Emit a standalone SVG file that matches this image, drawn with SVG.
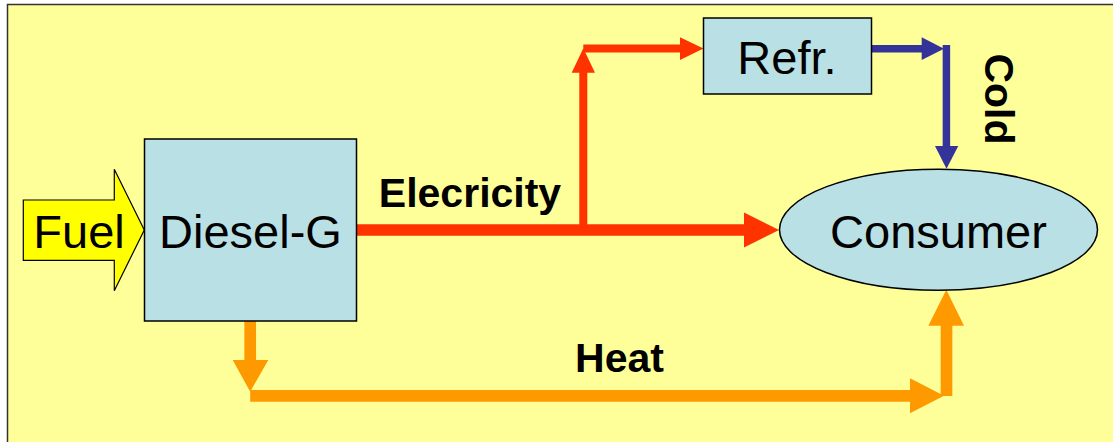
<svg xmlns="http://www.w3.org/2000/svg" width="1113" height="442" viewBox="0 0 1113 442">
<style>
.node{fill:#B9E0E4;stroke:#000;stroke-width:1.5}
.lbl{font-family:"Liberation Sans",Arial,sans-serif;font-size:47px;fill:#000;text-anchor:middle}
.blbl{font-family:"Liberation Sans",Arial,sans-serif;font-size:41px;font-weight:bold;fill:#000;text-anchor:middle}
.red{stroke:#FF3300;fill:none}
.redf{fill:#FF3300}
.blue{stroke:#333399;fill:none}
.bluef{fill:#333399}
.org{stroke:#FF9900;fill:none}
.orgf{fill:#FF9900}
</style>
<rect x="7.5" y="4.5" width="1120" height="450" fill="#FFFF99" stroke="#333" stroke-width="1.5"/>
<g id="connectors">
  <!-- electricity main -->
  <line class="red" x1="357" y1="230" x2="746" y2="230" stroke-width="11.5"/>
  <polygon class="redf" points="744,212.5 779,230 744,247.5"/>
  <!-- branch to Refr -->
  <line class="red" x1="583.3" y1="230" x2="583.3" y2="72" stroke-width="8"/>
  <polygon class="redf" points="571.7,72.7 583.3,48.3 595,72.7"/>
  <line class="red" x1="583.3" y1="48.5" x2="681" y2="48.5" stroke-width="8"/>
  <polygon class="redf" points="680,37.3 703.5,48.5 680,60"/>
  <!-- cold -->
  <line class="blue" x1="871" y1="48.7" x2="923" y2="48.7" stroke-width="7.5"/>
  <polygon class="bluef" points="921.7,37.3 944,48.7 921.7,60"/>
  <line class="blue" x1="946.4" y1="45" x2="946.4" y2="147" stroke-width="7.5"/>
  <polygon class="bluef" points="935,146 946.5,168.8 958.3,146"/>
  <!-- heat -->
  <line class="org" x1="250.2" y1="321" x2="250.2" y2="361" stroke-width="11.7"/>
  <polygon class="orgf" points="232.7,360 250.2,391.7 268.3,360"/>
  <line class="org" x1="250.2" y1="395.8" x2="911" y2="395.8" stroke-width="11.7"/>
  <polygon class="orgf" points="910,378.3 944,395.8 910,413.3"/>
  <line class="org" x1="946.5" y1="396" x2="946.5" y2="325" stroke-width="11.7"/>
  <polygon class="orgf" points="928.3,325.7 946.3,289.8 964,325.7"/>
</g>
<g id="fuel">
  <polygon points="23.3,200 114.3,200 114.3,169.3 144.3,230 114.3,290.7 114.3,260.3 23.3,260.3" fill="#FFFF00" stroke="#000" stroke-width="1.2"/>
  <text class="lbl" x="79" y="248">Fuel</text>
</g>
<g id="diesel">
  <rect class="node" x="144.5" y="139" width="212" height="182"/>
  <text class="lbl" x="250.5" y="248">Diesel-G</text>
</g>
<g id="refr">
  <rect class="node" x="703.5" y="18" width="168" height="76"/>
  <text class="lbl" x="787" y="74">Refr.</text>
</g>
<g id="consumer">
  <ellipse class="node" cx="938.5" cy="229.7" rx="159" ry="60.5"/>
  <text class="lbl" x="938.5" y="248">Consumer</text>
</g>
<g id="labels">
  <text class="blbl" x="470" y="206.7">Elecricity</text>
  <text class="blbl" x="619.5" y="372">Heat</text>
  <text class="blbl" transform="translate(985,99) rotate(90)">Cold</text>
</g>
</svg>
